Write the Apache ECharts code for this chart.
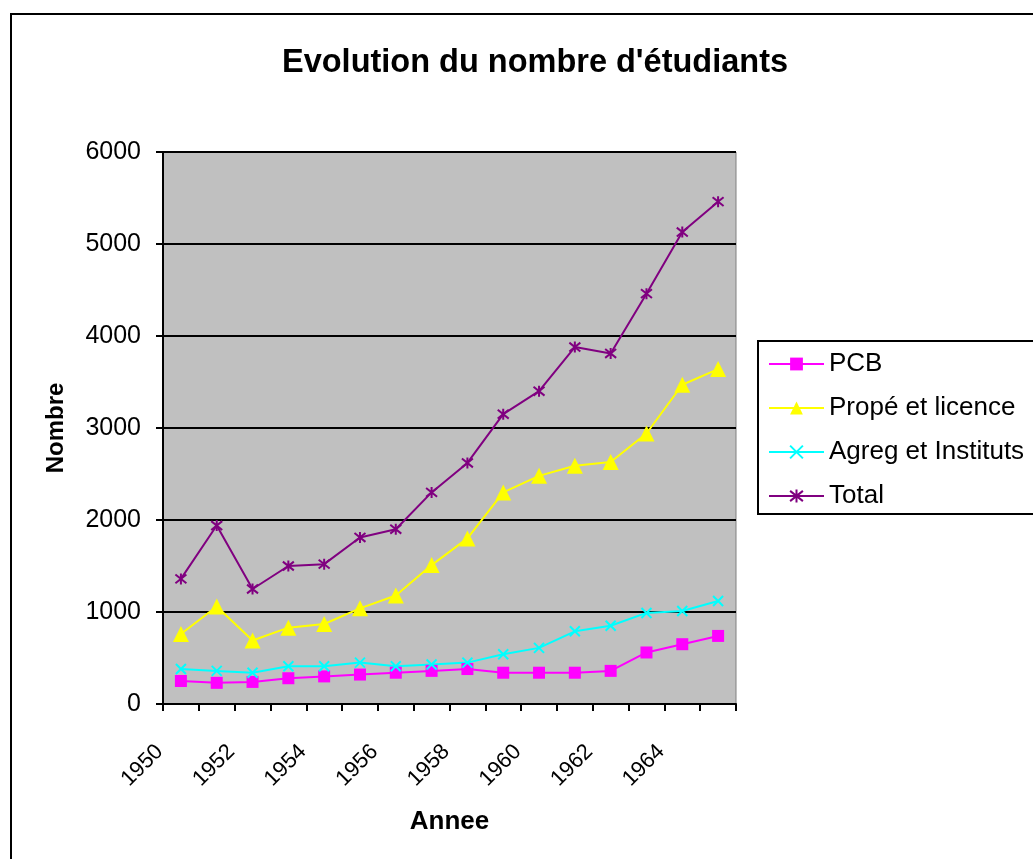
<!DOCTYPE html>
<html>
<head>
<meta charset="utf-8">
<title>Evolution du nombre d'étudiants</title>
<script src="https://cdn.jsdelivr.net/npm/echarts@6/dist/echarts.min.js"></script>
<style>
  html, body { margin: 0; padding: 0; background: #fff; }
  #chart { width: 1033px; height: 859px; }
</style>
</head>
<body>
<div id="chart"></div>
<script>
// années (axe des catégories)
var annees = ["1950", "1951", "1952", "1953", "1954", "1955", "1956", "1957",
  "1958", "1959", "1960", "1961", "1962", "1963", "1964", "1965"];

// séries
var pcb = [250, 230, 240, 280, 300, 320, 340, 360, 380, 340, 340, 340, 360, 560, 650, 740];
var prope = [760, 1060, 690, 830, 870, 1040, 1180, 1510, 1800, 2300, 2480, 2590, 2630, 2940, 3470, 3640];
var agreg = [380, 360, 340, 410, 410, 450, 410, 430, 450, 540, 610, 790, 850, 990, 1010, 1120];
var total = [1360, 1940, 1250, 1500, 1520, 1810, 1900, 2300, 2620, 3150, 3400, 3880, 3810, 4460, 5130, 5460];

var yTicks = [0, 1000, 2000, 3000, 4000, 5000, 6000];

var font = "Liberation Sans, Arial, sans-serif";

var chart = echarts.init(document.getElementById("chart"));

var option = {
  backgroundColor: "#fff",
  animation: false,
  textStyle: { fontFamily: font, color: "#000" },
  title: {
    text: "Evolution du nombre d'étudiants",
    left: 277,
    top: 42,
    textStyle: { fontFamily: font, fontSize: 32.5, fontWeight: "bold", color: "#000" }
  },
  graphic: [
    {
      type: "rect",
      shape: { x: 11, y: 14, width: 1040, height: 860 },
      style: { fill: "none", stroke: "#000", lineWidth: 2 },
      silent: true,
      z: -1
    }
  ],
  legend: {
    orient: "vertical",
    left: 758,
    top: 341,
    padding: [10, 30, 5, 10],
    itemGap: 18,
    itemWidth: 55,
    itemHeight: 16,
    borderColor: "#000",
    borderWidth: 2,
    textStyle: { fontFamily: font, fontSize: 26, color: "#000" },
    data: ["PCB", "Propé et licence", "Agreg et Instituts", "Total"]
  },
  grid: {
    left: 163,
    right: 297,
    top: 152,
    bottom: 155,
    show: true,
    backgroundColor: "#C0C0C0",
    borderColor: "#808080",
    borderWidth: 1
  },
  xAxis: {
    type: "category",
    data: annees,
    boundaryGap: true,
    name: "Annee",
    nameLocation: "middle",
    nameGap: 105,
    nameTextStyle: { fontFamily: font, fontSize: 26, fontWeight: "bold", color: "#000" },
    axisLine: { lineStyle: { color: "#000", width: 2 } },
    axisTick: { show: true, interval: 0, length: 7, lineStyle: { color: "#000", width: 2 } },
    axisLabel: {
      interval: 1,
      rotate: 45,
      margin: 23,
      padding: [0, 30, 0, 0],
      fontFamily: font,
      fontSize: 22,
      color: "#000"
    },
    splitLine: { show: false }
  },
  yAxis: {
    type: "value",
    min: yTicks[0],
    max: yTicks[yTicks.length - 1],
    interval: 1000,
    name: "Nombre",
    nameLocation: "middle",
    nameGap: 95,
    nameTextStyle: { fontFamily: font, fontSize: 24, fontWeight: "bold", color: "#000" },
    axisLine: { show: true, lineStyle: { color: "#000", width: 2 } },
    axisTick: { show: true, length: 7, lineStyle: { color: "#000", width: 2 } },
    axisLabel: {
      margin: 22,
      fontFamily: font,
      fontSize: 25,
      color: "#000",
      formatter: function (v) { return String(v); }
    },
    splitLine: { show: true, lineStyle: { color: "#000", width: 2 } }
  },
  series: [
    {
      name: "PCB",
      type: "line",
      data: pcb,
      symbol: "rect",
      symbolSize: 12,
      lineStyle: { color: "#FF00FF", width: 2 },
      itemStyle: { color: "#FF00FF" }
    },
    {
      name: "Propé et licence",
      type: "line",
      data: prope,
      symbol: "triangle",
      symbolSize: 16,
      lineStyle: { color: "#FFFF00", width: 2 },
      itemStyle: { color: "#FFFF00" }
    },
    {
      name: "Agreg et Instituts",
      type: "line",
      data: agreg,
      symbol: "path://M0,0L10,10M10,0L0,10",
      symbolSize: 10,
      lineStyle: { color: "#00FFFF", width: 2 },
      itemStyle: { color: "#00FFFF", borderColor: "#00FFFF", borderWidth: 2 }
    },
    {
      name: "Total",
      type: "line",
      data: total,
      symbol: "path://M5,0L5,10M0,1L10,9M10,1L0,9",
      symbolSize: 11,
      lineStyle: { color: "#800080", width: 2 },
      itemStyle: { color: "#800080", borderColor: "#800080", borderWidth: 2 }
    }
  ]
};

chart.setOption(option);
</script>
</body>
</html>
